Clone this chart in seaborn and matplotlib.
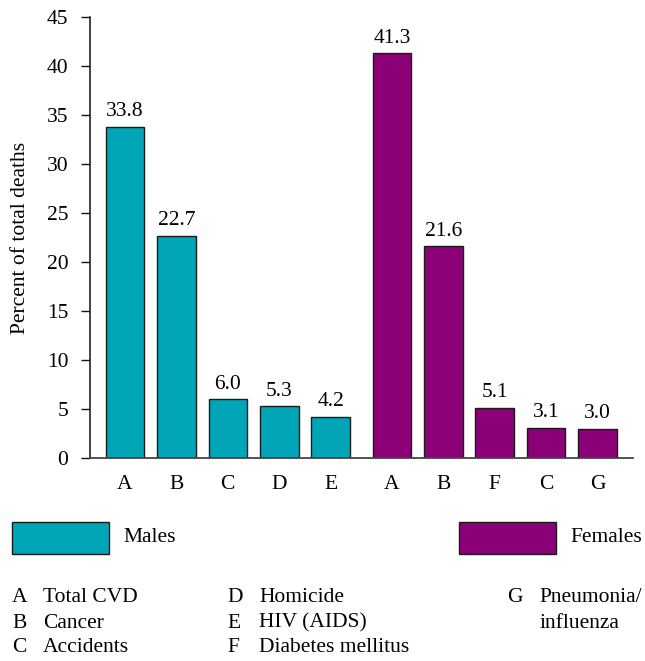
import numpy as np
import pandas as pd
import matplotlib
matplotlib.use("Agg")
import matplotlib.pyplot as plt
from matplotlib.patches import Rectangle
import seaborn as sns

# Leading causes of death, percent of total deaths
male_codes = ["A", "B", "C", "D", "E"]
male_values = [33.8, 22.7, 6.0, 5.3, 4.2]
female_codes = ["A", "B", "F", "C", "G"]
female_values = [41.3, 21.6, 5.1, 3.1, 3.0]

groups = ["Males", "Females"]
colors = {"Males": "#00a5b7", "Females": "#8b0077"}

key_codes = ["A", "B", "C", "D", "E", "F", "G"]
key_names = ["Total CVD", "Cancer", "Accidents", "Homicide", "HIV (AIDS)",
             "Diabetes mellitus", "Pneumonia/\ninfluenza"]

y_ticks = [0, 5, 10, 15, 20, 25, 30, 35, 40, 45]

sns.set_theme(style="white")
plt.rcParams["font.family"] = ["Liberation Serif", "DejaVu Serif"]
plt.rcParams["text.color"] = "black"
plt.rcParams["axes.labelcolor"] = "black"
plt.rcParams["xtick.color"] = "black"
plt.rcParams["ytick.color"] = "black"
FS = 15.5

W, H = 645, 661
fig = plt.figure(figsize=(W / 100, H / 100), dpi=100)
ax = fig.add_axes([90 / W, 1 - 458 / H, (633 - 90) / W, (458 - 17) / H])

# slot positions: females sit after a slightly wider gap
male_pos = np.arange(len(male_codes), dtype=float)
female_pos = np.arange(len(female_codes), dtype=float) + len(male_codes) + 0.19

df = pd.DataFrame({
    "pos": np.concatenate([male_pos, female_pos]),
    "value": male_values + female_values,
    "code": male_codes + female_codes,
    "sex": ["Males"] * len(male_codes) + ["Females"] * len(female_codes),
})

sns.barplot(data=df, x="pos", y="value", hue="sex", hue_order=groups,
            palette=colors, saturation=1, native_scale=True, dodge=False,
            width=0.75, edgecolor="#1a1a1a", linewidth=1.0, errorbar=None,
            legend=False, ax=ax)

for cont in ax.containers:
    ax.bar_label(cont, fmt="{:.1f}", padding=4, fontsize=FS, color="black")

ax.set_xlim(-0.68, female_pos[-1] + 0.69)
ax.set_ylim(0, 45)
ax.set_yticks(y_ticks)
ax.set_xticks(df["pos"], df["code"])
ax.set_xlabel("")
ax.set_ylabel("Percent of total deaths", fontsize=FS, labelpad=12)

ax.tick_params(axis="y", which="both", left=True, length=6.5, width=1.0,
               color="#111111", labelsize=FS, pad=9)
ax.tick_params(axis="x", bottom=False, labelsize=FS, pad=6)

for side in ["top", "right"]:
    ax.spines[side].set_visible(False)
ax.spines["left"].set_color("#111111")
ax.spines["left"].set_linewidth(1.1)
ax.spines["bottom"].set_color("#444444")
ax.spines["bottom"].set_linewidth(1.3)


def fx(px):
    return px / W


def fy(py):
    return 1 - py / H


# legend swatches
for name, x0 in [("Males", 12), ("Females", 459)]:
    fig.add_artist(Rectangle((fx(x0), fy(554)), fx(97), (554 - 522) / H,
                             transform=fig.transFigure, facecolor=colors[name],
                             edgecolor="#1a1a1a", linewidth=1.0))
    fig.text(fx(x0 + 111), fy(538), name, fontsize=FS, va="center", ha="left")

# key for the cause codes
cols = [(12, 43), (227, 259), (507, 539)]
rows = [598, 623, 648]
layout = [(0, 0), (0, 1), (0, 2), (1, 0), (1, 1), (1, 2), (2, 0)]
for code, name, (c, r) in zip(key_codes, key_names, layout):
    lx, tx = cols[c]
    fig.text(fx(lx), fy(rows[r]), code, fontsize=FS, va="center", ha="left")
    for k, line in enumerate(name.split("\n")):
        fig.text(fx(tx), fy(rows[r + k]), line, fontsize=FS, va="center", ha="left")

fig.savefig("out.png", dpi=100)
